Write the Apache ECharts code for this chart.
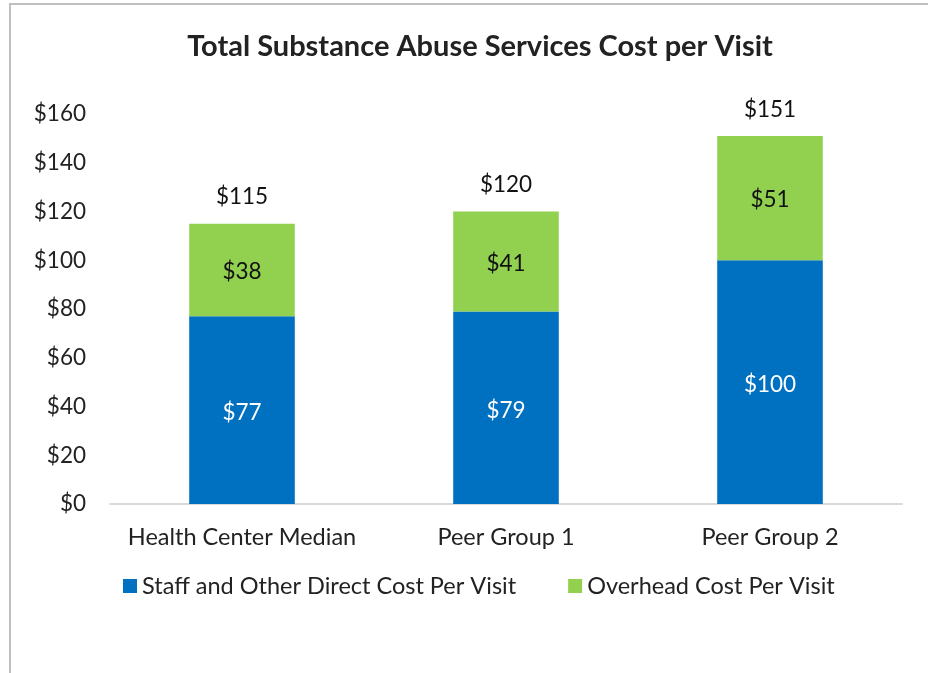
<!DOCTYPE html>
<html>
<head>
<meta charset="utf-8">
<script src="https://cdn.jsdelivr.net/npm/echarts@6/dist/echarts.min.js"></script>
<style>
  html, body { margin: 0; padding: 0; background: #fff; }
  #main { width: 928px; height: 673px; }
</style>
</head>
<body>
<div id="main"></div>
<script>
// chart data
var categories = ['Health Center Median', 'Peer Group 1', 'Peer Group 2'];
var directCost = [77, 79, 100];
var overheadCost = [38, 41, 51];
var totals = [115, 120, 151];
var yTicks = [0, 20, 40, 60, 80, 100, 120, 140, 160];

var fontFam = 'Lato, "Open Sans", sans-serif';
var chart = echarts.init(document.getElementById('main'));

var option = {
  backgroundColor: '#fff',
  textStyle: { fontFamily: fontFam },
  title: {
    text: 'Total Substance Abuse Services Cost per Visit',
    left: 475, top: 27, textAlign: 'center',
    textStyle: { fontSize: 29, fontWeight: 'bold', color: '#222', fontFamily: fontFam }
  },
  graphic: [{
    type: 'polyline',
    shape: { points: [[10, 673], [10, 4], [928, 4]] },
    style: { stroke: '#bfbfbf', lineWidth: 2, fill: null }
  }],
  legend: {
    data: ['Staff and Other Direct Cost Per Visit', 'Overhead Cost Per Visit'],
    top: 569, left: 118,
    itemWidth: 14, itemHeight: 14, itemGap: 52,
    icon: 'rect',
    textStyle: { fontSize: 23.5, color: '#222', fontFamily: fontFam }
  },
  grid: { left: 110, right: 26, top: 114, bottom: 169, containLabel: false },
  xAxis: {
    type: 'category',
    data: categories,
    axisLine: { lineStyle: { color: '#d9d9d9', width: 2 } },
    axisTick: { show: false },
    axisLabel: { fontSize: 23.5, color: '#222', margin: 21, interval: 0, fontFamily: fontFam }
  },
  yAxis: {
    type: 'value',
    min: yTicks[0], max: yTicks[yTicks.length - 1], interval: 20,
    splitLine: { show: false },
    axisLine: { show: false },
    axisTick: { show: false },
    axisLabel: { fontSize: 22.5, color: '#222', margin: 24, formatter: '${value}', fontFamily: fontFam }
  },
  series: [
    {
      name: 'Staff and Other Direct Cost Per Visit',
      type: 'bar', stack: 'cost', barWidth: '40%',
      itemStyle: { color: '#0070C0' },
      label: { show: true, position: 'inside', color: '#fff', fontSize: 22.5, formatter: '${c}', offset: [0, 3] },
      data: directCost
    },
    {
      name: 'Overhead Cost Per Visit',
      type: 'bar', stack: 'cost', barWidth: '40%',
      itemStyle: { color: '#92D050' },
      label: { show: true, position: 'inside', color: '#111', fontSize: 22.5, formatter: '${c}', offset: [0, 2] },
      data: overheadCost
    },
    {
      name: 'Total',
      type: 'bar', stack: 'cost', barWidth: '40%',
      itemStyle: { color: 'transparent' },
      label: {
        show: true, position: 'top', distance: 15, color: '#111', fontSize: 22.5,
        formatter: function (p) { return '$' + totals[p.dataIndex]; }
      },
      data: totals.map(function () { return 0; })
    }
  ]
};

chart.setOption(option);
</script>
</body>
</html>
